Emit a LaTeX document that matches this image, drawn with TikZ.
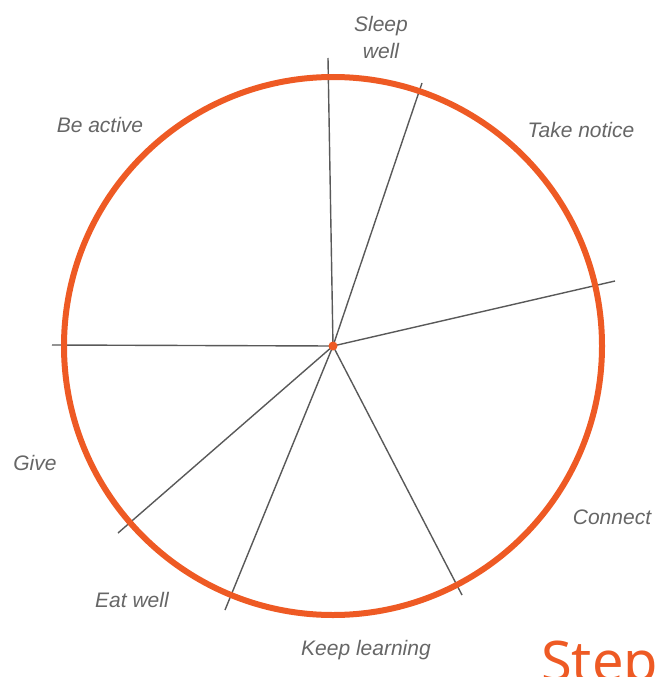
\documentclass[tikz,border=0pt]{standalone}
\usepackage{fontspec}
\newfontfamily\hand{Liberation Sans}
\newfontfamily\stepfont{Noto Sans}
\definecolor{ring}{HTML}{EE5A24}
\definecolor{ink}{HTML}{666666}
\tikzset{
  spoke/.style={draw=black!65, line width=1.4pt},
  lbl/.style={font=\hand\itshape\fontsize{21}{24}\selectfont, text=ink, inner sep=0pt, align=center},
}
\begin{document}
\begin{tikzpicture}[x=1pt,y=-1pt]
\useasboundingbox (0,0) rectangle (657,677);
\coordinate (c) at (333,346);
\coordinate (e1) at (328,58);
\coordinate (e2) at (422,83);
\coordinate (e3) at (615,281);
\coordinate (e4) at (462,595);
\coordinate (e5) at (225,610);
\coordinate (e6) at (118,533);
\coordinate (e7) at (52,345);
\foreach \e in {e1,e2,e3,e4,e5,e6,e7} \draw[spoke] (c) -- (\e);
\draw[ring, line width=6pt] (c) circle[radius=269];
\fill[ring] (c) circle[radius=4.5];
\node[lbl] (sleep) at (381,37) {Sleep\\[3pt]well};
\node[lbl] (notice) at (581,130) {Take notice};
\node[lbl] (active) at (100,125) {Be active};
\node[lbl] (connect) at (612,517) {Connect};
\node[lbl] (give) at (35,463) {Give};
\node[lbl] (eat) at (132,600) {Eat well};
\node[lbl] (learn) at (366,650) {Keep learning};
\node[anchor=base west, inner sep=0pt, text=ring, font=\stepfont\fontsize{56}{60}\selectfont] (step) at (541,681) {Step};
\end{tikzpicture}
\end{document}
